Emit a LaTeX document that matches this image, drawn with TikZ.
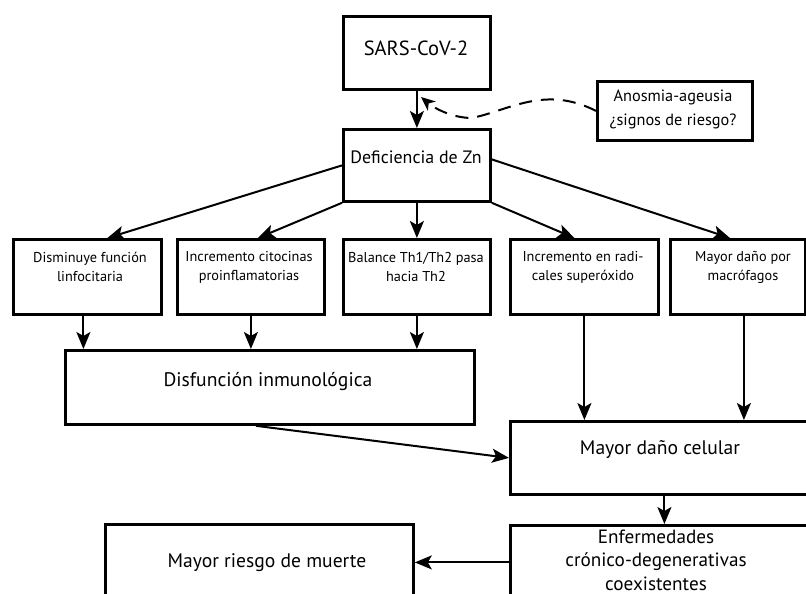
\documentclass[tikz,border=0pt]{standalone}
\usepackage{fontspec}
\setmainfont{PT Sans}
\usetikzlibrary{arrows.meta}
\begin{document}
\begin{tikzpicture}[x=1pt,y=-1pt,
  box/.style={draw, line width=2.8pt, anchor=north west, inner sep=0pt},
  big/.style={align=center, inner sep=0pt, font=\fontsize{19.6}{23.5}\selectfont},
  mid/.style={align=center, inner sep=0pt, font=\fontsize{16.3}{24}\selectfont},
  sml/.style={align=center, inner sep=0pt, font=\fontsize{14.3}{19}\selectfont},
  arr/.style={line width=2pt, -{Stealth[length=17pt,width=14pt,inset=4pt]}},
  dsh/.style={line width=2pt, dash pattern=on 13pt off 9pt, -{Stealth[length=14pt,width=12pt,inset=4pt]}}]
\useasboundingbox (0,0) rectangle (806,594);
\clip (0,0) rectangle (806,594);
% boxes
\node[box, minimum width=147pt, minimum height=73pt] (sars) at (342,15) {};
\node[box, minimum width=147pt, minimum height=72pt] (def) at (342,128) {};
\node[box, minimum width=155pt, minimum height=59pt] (anos) at (596,80) {};
\node[box, minimum width=148pt, minimum height=75pt] (b1) at (12,238) {};
\node[box, minimum width=147pt, minimum height=75pt] (b2) at (176,238) {};
\node[box, minimum width=147pt, minimum height=75pt] (b3) at (342,238) {};
\node[box, minimum width=148pt, minimum height=75pt] (b4) at (509,238) {};
\node[box, minimum width=135pt, minimum height=75pt] (b5) at (669,238) {};
\node[box, minimum width=409pt, minimum height=74pt] (dis) at (64,349) {};
\node[box, minimum width=302pt, minimum height=73pt] (cel) at (509,420) {};
\node[box, minimum width=302pt, minimum height=100pt] (enf) at (509,524) {};
\node[box, minimum width=308pt, minimum height=100pt] (rie) at (104,523) {};
% texts
\node[big, font=\fontsize{20.5}{24}\selectfont] (tsars) at (416,48) {SARS-CoV-2};
\node[big, font=\fontsize{17.9}{21}\selectfont] (tdef) at (416,157) {Deficiencia de Zn};
\node[mid] (tanos) at (673,109) {Anosmia-ageusia\\¿signos de riesgo?};
\node[sml] (tb1) at (90,267) {Disminuye función\\linfocitaria};
\node[sml] (tb2) at (249,267) {Incremento citocinas\\proinflamatorias};
\node[sml] (tb3) at (416,267) {Balance Th1/Th2 pasa\\hacia Th2};
\node[sml] (tb4) at (583,267) {Incremento en radi-\\cales superóxido};
\node[sml] (tb5) at (743,267) {Mayor daño por\\macrófagos};
\node[big] (tdis) at (268,382) {Disfunción inmunológica};
\node[big] (tcel) at (660,450) {Mayor daño celular};
\node[big, font=\fontsize{19.2}{23.5}\selectfont] (tenf) at (656,560) {Enfermedades\\crónico-degenerativas\\coexistentes};
\node[big] (trie) at (267,563) {Mayor riesgo de muerte};
% connectors
\draw[arr] (sars.south) -- (def.north);
\draw[arr] (def.west) -- ([xshift=20pt]b1.north);
\draw[arr] (def.south west) -- ([xshift=7pt]b2.north);
\draw[arr] (def.south) -- (b3.north);
\draw[arr] (def.south east) -- ([xshift=-10pt]b4.north);
\draw[arr] ([yshift=6pt]def.east) -- ([xshift=-8pt]b5.north);
\draw[arr] ([xshift=-4pt]b1.south) -- ([xshift=-4pt]b1.south |- dis.north);
\draw[arr] (b2.south) -- (b2.south |- dis.north);
\draw[arr] (b3.south) -- (b3.south |- dis.north);
\draw[arr] (b4.south) -- (b4.south |- cel.north);
\draw[arr] ([xshift=6pt]b5.south) -- ([xshift=6pt]b5.south |- cel.north);
\draw[arr] ([xshift=-14pt]dis.south) -- (cel.west);
\draw[arr] ([xshift=3pt]cel.south) -- ([xshift=3pt]cel.south |- enf.north);
\draw[arr] ([yshift=13pt]enf.west) -- ([yshift=13pt]enf.west -| rie.east);
\coordinate (dmid) at (472,118);
\coordinate (dtip) at (421,97);
\draw[dsh] (anos.west) .. controls (545,85) and (510,110) .. (dmid) .. controls (452,118) and (434,108) .. (dtip);
\end{tikzpicture}
\end{document}
